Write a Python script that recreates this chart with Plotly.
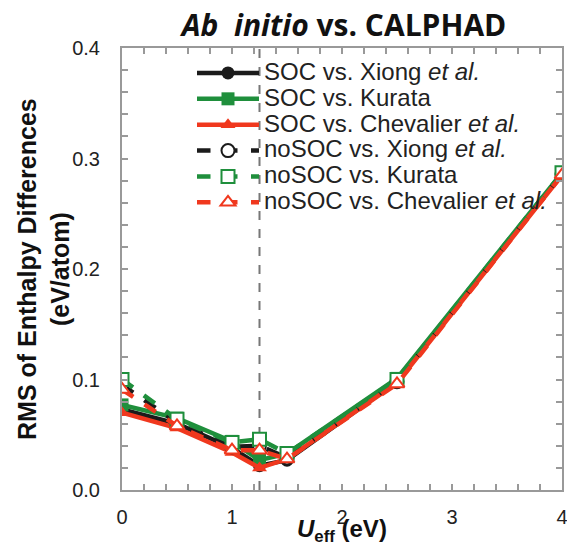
import plotly.graph_objects as go

u_eff = [0, 0.5, 1.0, 1.25, 1.5, 2.5, 4.0]

soc_xiong = [0.073, 0.060, 0.038, 0.022, 0.027, 0.098, 0.286]
soc_kurata = [0.077, 0.065, 0.044, 0.027, 0.033, 0.101, 0.287]
soc_chevalier = [0.070, 0.056, 0.034, 0.020, 0.028, 0.097, 0.285]
nosoc_xiong = [0.095, 0.061, 0.039, 0.040, 0.029, 0.098, 0.286]
nosoc_kurata = [0.100, 0.064, 0.043, 0.046, 0.033, 0.100, 0.287]
nosoc_chevalier = [0.091, 0.058, 0.036, 0.036, 0.028, 0.096, 0.285]

vline_x = 1.25

BLACK = "#1b1b1b"
GREEN = "#1f8f3c"
RED = "#f0381e"

series = [
    ("SOC vs. Xiong <i>et al.</i>", soc_xiong, BLACK, "solid", "circle", False),
    ("SOC vs. Kurata", soc_kurata, GREEN, "solid", "square", False),
    ("SOC vs. Chevalier <i>et al.</i>", soc_chevalier, RED, "solid", "triangle-up", False),
    ("noSOC vs. Xiong <i>et al.</i>", nosoc_xiong, BLACK, "dash", "circle", True),
    ("noSOC vs. Kurata", nosoc_kurata, GREEN, "dash", "square", True),
    ("noSOC vs. Chevalier <i>et al.</i>", nosoc_chevalier, RED, "dash", "triangle-up", True),
]

fig = go.Figure()
for name, ys, col, dash, sym, hollow in series:
    fig.add_trace(go.Scatter(
        x=u_eff, y=ys, mode="lines+markers",
        name='<span style="font-size:24px">' + name + '</span>',
        line=dict(color=col, width=4.5, dash=dash),
        marker=dict(symbol=sym, size=13,
                    color="white" if hollow else col,
                    line=dict(color=col, width=2 if hollow else 0)),
    ))

fig.add_vline(x=vline_x, line=dict(color="#777777", width=2, dash="dash"), layer="below")

FONT = "Liberation Sans, Arial, sans-serif"
axis_font = dict(family=FONT, size=20, color="#222222")

W, H = 567, 556
fig.update_layout(
    width=W, height=H,
    margin=dict(l=122, r=5, t=48, b=66),
    plot_bgcolor="white", paper_bgcolor="white",
    title=dict(text="<b><i>Ab  initio</i> vs. CALPHAD</b>", x=344 / W, xanchor="center",
               y=1 - 25 / H, yanchor="middle", automargin=False,
               font=dict(family="Open Sans, sans-serif", size=30, color="#111111")),
    showlegend=True,
    legend=dict(x=(192 - 122) / 440, y=(490 - 55) / 442, xanchor="left", yanchor="top",
                bgcolor="rgba(0,0,0,0)", itemwidth=62, tracegroupgap=0,
                font=dict(family=FONT, size=17.6, color="#222222")),
    xaxis=dict(range=[0, 4], tickvals=[0, 1, 2, 3, 4], ticktext=["0", "1", "2", "3", "4"],
               automargin=False, ticklabeloverflow="allow",
               showgrid=False, zeroline=False, showline=True, linecolor="#999999", linewidth=2,
               mirror="allticks", ticks="inside", ticklen=6, tickcolor="#999999", tickwidth=1.5,
               minor=dict(dtick=0.2, ticks="inside", ticklen=6, tickcolor="#999999", tickwidth=1.5, showgrid=False),
               tickfont=axis_font, ticklabelstandoff=8),
    yaxis=dict(range=[0, 0.4], tickvals=[0, 0.1, 0.2, 0.3, 0.4], ticktext=["0.0", "0.1", "0.2", "0.3", "0.4"],
               automargin=False, ticklabeloverflow="allow",
               showgrid=False, zeroline=False, showline=True, linecolor="#999999", linewidth=2,
               mirror="allticks", ticks="inside", ticklen=6, tickcolor="#999999", tickwidth=1.5,
               minor=dict(dtick=0.02, ticks="inside", ticklen=6, tickcolor="#999999", tickwidth=1.5, showgrid=False),
               tickfont=axis_font, ticklabelstandoff=16),
    annotations=[
        dict(text="<b><i>U</i><sub>eff</sub> (eV)</b>", xref="paper", yref="paper",
             x=0.5, y=0, xanchor="center", yanchor="top", yshift=-23, showarrow=False,
             font=dict(family=FONT, size=24, color="#111111")),
        dict(text="<b>RMS of Enthalpy Differences<br>(eV/atom)</b>", xref="paper", yref="paper",
             x=0, y=0.5, xanchor="center", yanchor="middle", xshift=-79, textangle=-90,
             showarrow=False, font=dict(family=FONT, size=25, color="#111111")),
    ],
)

fig.write_html(
    "out.html",
    config={"displayModeBar": False},
    post_script="document.body.style.margin='0';document.documentElement.style.overflow='hidden';document.body.style.overflow='hidden';",
)
